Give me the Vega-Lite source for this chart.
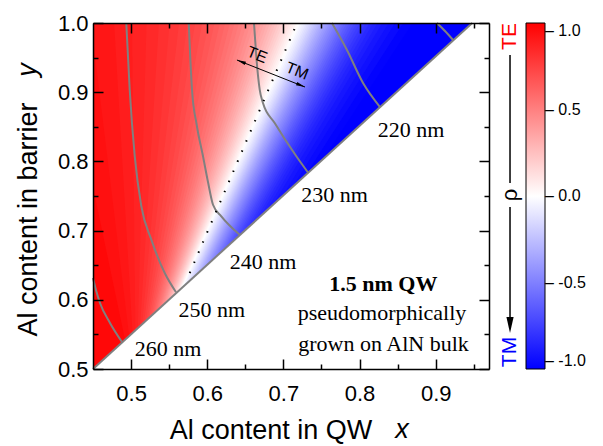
{
"$schema":"https://vega.github.io/schema/vega-lite/v6.json",
"width":396,"height":346,
"autosize":{"type":"none"},
"padding":{"left":93,"top":23,"right":114,"bottom":77},
"background":"white",
"config":{"view":{"stroke":null},"font":"Liberation Sans","axis":{"grid":false,"tickColor":"black","tickWidth":1.5,"domainColor":"black","domainWidth":1.5,"labelColor":"black","titleColor":"black","labelFont":"Liberation Sans","titleFont":"Liberation Sans","labelFontSize":22,"titleFontSize":27,"titleFontWeight":"normal"}},
"resolve":{"axis":{"x":"independent","y":"independent"}},
"datasets":{
"bands":[
{"band":"r0","y":0.5,"x":0.3,"x2":0.5199,"rho":0.0125},{"band":"r0","y":1.0,"x":0.3,"x2":0.7199,"rho":0.0125},
{"band":"r1","y":0.5,"x":0.3,"x2":0.5197,"rho":0.0375},{"band":"r1","y":1.0,"x":0.3,"x2":0.7172,"rho":0.0375},
{"band":"r2","y":0.5,"x":0.3,"x2":0.5196,"rho":0.0625},{"band":"r2","y":1.0,"x":0.3,"x2":0.7145,"rho":0.0625},
{"band":"r3","y":0.5,"x":0.3,"x2":0.5194,"rho":0.0875},{"band":"r3","y":1.0,"x":0.3,"x2":0.7117,"rho":0.0875},
{"band":"r4","y":0.5,"x":0.3,"x2":0.5192,"rho":0.1125},{"band":"r4","y":1.0,"x":0.3,"x2":0.7088,"rho":0.1125},
{"band":"r5","y":0.5,"x":0.3,"x2":0.519,"rho":0.1375},{"band":"r5","y":1.0,"x":0.3,"x2":0.7059,"rho":0.1375},
{"band":"r6","y":0.5,"x":0.3,"x2":0.5188,"rho":0.1625},{"band":"r6","y":1.0,"x":0.3,"x2":0.7028,"rho":0.1625},
{"band":"r7","y":0.5,"x":0.3,"x2":0.5186,"rho":0.1875},{"band":"r7","y":1.0,"x":0.3,"x2":0.6997,"rho":0.1875},
{"band":"r8","y":0.5,"x":0.3,"x2":0.5184,"rho":0.2125},{"band":"r8","y":1.0,"x":0.3,"x2":0.6964,"rho":0.2125},
{"band":"r9","y":0.5,"x":0.3,"x2":0.5182,"rho":0.2375},{"band":"r9","y":1.0,"x":0.3,"x2":0.6931,"rho":0.2375},
{"band":"r10","y":0.5,"x":0.3,"x2":0.518,"rho":0.2625},{"band":"r10","y":1.0,"x":0.3,"x2":0.6896,"rho":0.2625},
{"band":"r11","y":0.5,"x":0.3,"x2":0.5178,"rho":0.2875},{"band":"r11","y":1.0,"x":0.3,"x2":0.6861,"rho":0.2875},
{"band":"r12","y":0.5,"x":0.3,"x2":0.5175,"rho":0.3125},{"band":"r12","y":1.0,"x":0.3,"x2":0.6824,"rho":0.3125},
{"band":"r13","y":0.5,"x":0.3,"x2":0.5173,"rho":0.3375},{"band":"r13","y":1.0,"x":0.3,"x2":0.6786,"rho":0.3375},
{"band":"r14","y":0.5,"x":0.3,"x2":0.517,"rho":0.3625},{"band":"r14","y":1.0,"x":0.3,"x2":0.6746,"rho":0.3625},
{"band":"r15","y":0.5,"x":0.3,"x2":0.5168,"rho":0.3875},{"band":"r15","y":1.0,"x":0.3,"x2":0.6705,"rho":0.3875},
{"band":"r16","y":0.5,"x":0.3,"x2":0.5165,"rho":0.4125},{"band":"r16","y":1.0,"x":0.3,"x2":0.6662,"rho":0.4125},
{"band":"r17","y":0.5,"x":0.3,"x2":0.5162,"rho":0.4375},{"band":"r17","y":1.0,"x":0.3,"x2":0.6617,"rho":0.4375},
{"band":"r18","y":0.5,"x":0.3,"x2":0.5159,"rho":0.4625},{"band":"r18","y":1.0,"x":0.3,"x2":0.657,"rho":0.4625},
{"band":"r19","y":0.5,"x":0.3,"x2":0.5156,"rho":0.4875},{"band":"r19","y":1.0,"x":0.3,"x2":0.6521,"rho":0.4875},
{"band":"r20","y":0.5,"x":0.3,"x2":0.5153,"rho":0.5125},{"band":"r20","y":1.0,"x":0.3,"x2":0.647,"rho":0.5125},
{"band":"r21","y":0.5,"x":0.3,"x2":0.515,"rho":0.5375},{"band":"r21","y":1.0,"x":0.3,"x2":0.6416,"rho":0.5375},
{"band":"r22","y":0.5,"x":0.3,"x2":0.5146,"rho":0.5625},{"band":"r22","y":1.0,"x":0.3,"x2":0.6359,"rho":0.5625},
{"band":"r23","y":0.5,"x":0.3,"x2":0.5142,"rho":0.5875},{"band":"r23","y":1.0,"x":0.3,"x2":0.6299,"rho":0.5875},
{"band":"r24","y":0.5,"x":0.3,"x2":0.5138,"rho":0.6125},{"band":"r24","y":1.0,"x":0.3,"x2":0.6235,"rho":0.6125},
{"band":"r25","y":0.5,"x":0.3,"x2":0.5134,"rho":0.6375},{"band":"r25","y":1.0,"x":0.3,"x2":0.6167,"rho":0.6375},
{"band":"r26","y":0.5,"x":0.3,"x2":0.513,"rho":0.6625},{"band":"r26","y":1.0,"x":0.3,"x2":0.6095,"rho":0.6625},
{"band":"r27","y":0.5,"x":0.3,"x2":0.5125,"rho":0.6875},{"band":"r27","y":1.0,"x":0.3,"x2":0.6017,"rho":0.6875},
{"band":"r28","y":0.5,"x":0.3,"x2":0.5119,"rho":0.7125},{"band":"r28","y":1.0,"x":0.3,"x2":0.5933,"rho":0.7125},
{"band":"r29","y":0.5,"x":0.3,"x2":0.5114,"rho":0.7375},{"band":"r29","y":1.0,"x":0.3,"x2":0.5841,"rho":0.7375},
{"band":"r30","y":0.5,"x":0.3,"x2":0.5107,"rho":0.7625},{"band":"r30","y":1.0,"x":0.3,"x2":0.5741,"rho":0.7625},
{"band":"r31","y":0.5,"x":0.3,"x2":0.51,"rho":0.7875},{"band":"r31","y":1.0,"x":0.3,"x2":0.563,"rho":0.7875},
{"band":"r32","y":0.5,"x":0.3,"x2":0.5092,"rho":0.8125},{"band":"r32","y":1.0,"x":0.3,"x2":0.5506,"rho":0.8125},
{"band":"r33","y":0.5,"x":0.3,"x2":0.5084,"rho":0.8375},{"band":"r33","y":1.0,"x":0.3,"x2":0.5366,"rho":0.8375},
{"band":"r34","y":0.5,"x":0.3,"x2":0.5073,"rho":0.8625},{"band":"r34","y":1.0,"x":0.3,"x2":0.5203,"rho":0.8625},
{"band":"r35","y":0.5,"x":0.3,"x2":0.5061,"rho":0.8875},{"band":"r35","y":1.0,"x":0.3,"x2":0.5012,"rho":0.8875},
{"band":"r36","y":0.5,"x":0.3,"x2":0.5047,"rho":0.9125},{"band":"r36","y":1.0,"x":0.3,"x2":0.4777,"rho":0.9125},
{"band":"r37","y":0.5,"x":0.3,"x2":0.5028,"rho":0.9375},{"band":"r37","y":1.0,"x":0.3,"x2":0.4474,"rho":0.9375},
{"band":"r38","y":0.5,"x":0.3,"x2":0.5001,"rho":0.97},{"band":"r38","y":1.0,"x":0.3,"x2":0.4048,"rho":0.97},
{"band":"b0","y":0.5,"x":0.5199,"x2":1.2,"rho":-0.0125},{"band":"b0","y":1.0,"x":0.7199,"x2":1.2,"rho":-0.0125},
{"band":"b1","y":0.5,"x":0.5207,"x2":1.2,"rho":-0.0375},{"band":"b1","y":1.0,"x":0.7224,"x2":1.2,"rho":-0.0375},
{"band":"b2","y":0.5,"x":0.5216,"x2":1.2,"rho":-0.0625},{"band":"b2","y":1.0,"x":0.7249,"x2":1.2,"rho":-0.0625},
{"band":"b3","y":0.5,"x":0.5224,"x2":1.2,"rho":-0.0875},{"band":"b3","y":1.0,"x":0.7274,"x2":1.2,"rho":-0.0875},
{"band":"b4","y":0.5,"x":0.5232,"x2":1.2,"rho":-0.1125},{"band":"b4","y":1.0,"x":0.7299,"x2":1.2,"rho":-0.1125},
{"band":"b5","y":0.5,"x":0.524,"x2":1.2,"rho":-0.1375},{"band":"b5","y":1.0,"x":0.7322,"x2":1.2,"rho":-0.1375},
{"band":"b6","y":0.5,"x":0.5248,"x2":1.2,"rho":-0.1625},{"band":"b6","y":1.0,"x":0.7345,"x2":1.2,"rho":-0.1625},
{"band":"b7","y":0.5,"x":0.5255,"x2":1.2,"rho":-0.1875},{"band":"b7","y":1.0,"x":0.7367,"x2":1.2,"rho":-0.1875},
{"band":"b8","y":0.5,"x":0.5263,"x2":1.2,"rho":-0.2125},{"band":"b8","y":1.0,"x":0.739,"x2":1.2,"rho":-0.2125},
{"band":"b9","y":0.5,"x":0.527,"x2":1.2,"rho":-0.2375},{"band":"b9","y":1.0,"x":0.7413,"x2":1.2,"rho":-0.2375},
{"band":"b10","y":0.5,"x":0.5278,"x2":1.2,"rho":-0.2625},{"band":"b10","y":1.0,"x":0.7435,"x2":1.2,"rho":-0.2625},
{"band":"b11","y":0.5,"x":0.5285,"x2":1.2,"rho":-0.2875},{"band":"b11","y":1.0,"x":0.7458,"x2":1.2,"rho":-0.2875},
{"band":"b12","y":0.5,"x":0.5293,"x2":1.2,"rho":-0.3125},{"band":"b12","y":1.0,"x":0.7481,"x2":1.2,"rho":-0.3125},
{"band":"b13","y":0.5,"x":0.5301,"x2":1.2,"rho":-0.3375},{"band":"b13","y":1.0,"x":0.7504,"x2":1.2,"rho":-0.3375},
{"band":"b14","y":0.5,"x":0.5309,"x2":1.2,"rho":-0.3625},{"band":"b14","y":1.0,"x":0.7529,"x2":1.2,"rho":-0.3625},
{"band":"b15","y":0.5,"x":0.5317,"x2":1.2,"rho":-0.3875},{"band":"b15","y":1.0,"x":0.7554,"x2":1.2,"rho":-0.3875},
{"band":"b16","y":0.5,"x":0.5326,"x2":1.2,"rho":-0.4125},{"band":"b16","y":1.0,"x":0.7579,"x2":1.2,"rho":-0.4125},
{"band":"b17","y":0.5,"x":0.5334,"x2":1.2,"rho":-0.4375},{"band":"b17","y":1.0,"x":0.7605,"x2":1.2,"rho":-0.4375},
{"band":"b18","y":0.5,"x":0.5343,"x2":1.2,"rho":-0.4625},{"band":"b18","y":1.0,"x":0.7632,"x2":1.2,"rho":-0.4625},
{"band":"b19","y":0.5,"x":0.5353,"x2":1.2,"rho":-0.4875},{"band":"b19","y":1.0,"x":0.766,"x2":1.2,"rho":-0.4875},
{"band":"b20","y":0.5,"x":0.5362,"x2":1.2,"rho":-0.5125},{"band":"b20","y":1.0,"x":0.7688,"x2":1.2,"rho":-0.5125},
{"band":"b21","y":0.5,"x":0.5371,"x2":1.2,"rho":-0.5375},{"band":"b21","y":1.0,"x":0.7716,"x2":1.2,"rho":-0.5375},
{"band":"b22","y":0.5,"x":0.538,"x2":1.2,"rho":-0.5625},{"band":"b22","y":1.0,"x":0.7743,"x2":1.2,"rho":-0.5625},
{"band":"b23","y":0.5,"x":0.539,"x2":1.2,"rho":-0.5875},{"band":"b23","y":1.0,"x":0.7771,"x2":1.2,"rho":-0.5875},
{"band":"b24","y":0.5,"x":0.5399,"x2":1.2,"rho":-0.6125},{"band":"b24","y":1.0,"x":0.7799,"x2":1.2,"rho":-0.6125},
{"band":"b25","y":0.5,"x":0.5409,"x2":1.2,"rho":-0.6375},{"band":"b25","y":1.0,"x":0.783,"x2":1.2,"rho":-0.6375},
{"band":"b26","y":0.5,"x":0.542,"x2":1.2,"rho":-0.6625},{"band":"b26","y":1.0,"x":0.7862,"x2":1.2,"rho":-0.6625},
{"band":"b27","y":0.5,"x":0.543,"x2":1.2,"rho":-0.6875},{"band":"b27","y":1.0,"x":0.7893,"x2":1.2,"rho":-0.6875},
{"band":"b28","y":0.5,"x":0.5442,"x2":1.2,"rho":-0.7125},{"band":"b28","y":1.0,"x":0.7928,"x2":1.2,"rho":-0.7125},
{"band":"b29","y":0.5,"x":0.5454,"x2":1.2,"rho":-0.7375},{"band":"b29","y":1.0,"x":0.7963,"x2":1.2,"rho":-0.7375},
{"band":"b30","y":0.5,"x":0.5466,"x2":1.2,"rho":-0.7625},{"band":"b30","y":1.0,"x":0.7999,"x2":1.2,"rho":-0.7625},
{"band":"b31","y":0.5,"x":0.548,"x2":1.2,"rho":-0.7875},{"band":"b31","y":1.0,"x":0.8041,"x2":1.2,"rho":-0.7875},
{"band":"b32","y":0.5,"x":0.5493,"x2":1.2,"rho":-0.8125},{"band":"b32","y":1.0,"x":0.8082,"x2":1.2,"rho":-0.8125},
{"band":"b33","y":0.5,"x":0.5509,"x2":1.2,"rho":-0.8375},{"band":"b33","y":1.0,"x":0.8129,"x2":1.2,"rho":-0.8375},
{"band":"b34","y":0.5,"x":0.5526,"x2":1.2,"rho":-0.8625},{"band":"b34","y":1.0,"x":0.8179,"x2":1.2,"rho":-0.8625},
{"band":"b35","y":0.5,"x":0.5545,"x2":1.2,"rho":-0.8875},{"band":"b35","y":1.0,"x":0.8237,"x2":1.2,"rho":-0.8875},
{"band":"b36","y":0.5,"x":0.5566,"x2":1.2,"rho":-0.9125},{"band":"b36","y":1.0,"x":0.8299,"x2":1.2,"rho":-0.9125},
{"band":"b37","y":0.5,"x":0.5593,"x2":1.2,"rho":-0.9375},{"band":"b37","y":1.0,"x":0.8382,"x2":1.2,"rho":-0.9375},
{"band":"b38","y":0.5,"x":0.5621,"x2":1.2,"rho":-0.9625},{"band":"b38","y":1.0,"x":0.8466,"x2":1.2,"rho":-0.9625},
{"band":"b39","y":0.5,"x":0.5657,"x2":1.2,"rho":-0.9875},{"band":"b39","y":1.0,"x":0.8574,"x2":1.2,"rho":-0.9875},
{"band":"b40","y":0.5,"x":0.5699,"x2":1.2,"rho":-1},{"band":"b40","y":1.0,"x":0.8699,"x2":1.2,"rho":-1}
],
"contours":[
{"lam":"260","x":0.45,"y":0.6315},{"lam":"260","x":0.4539,"y":0.6142},{"lam":"260","x":0.4592,"y":0.5954},{"lam":"260","x":0.4723,"y":0.5665},{"lam":"260","x":0.4881,"y":0.539},
{"lam":"250","x":0.4937,"y":1.0},{"lam":"250","x":0.4982,"y":0.9036},{"lam":"250","x":0.5048,"y":0.8078},{"lam":"250","x":0.5134,"y":0.7355},{"lam":"250","x":0.5266,"y":0.6869},{"lam":"250","x":0.5442,"y":0.6387},{"lam":"250","x":0.559,"y":0.611},
{"lam":"240","x":0.5757,"y":1.0},{"lam":"240","x":0.58,"y":0.9036},{"lam":"240","x":0.5862,"y":0.8526},{"lam":"240","x":0.5944,"y":0.8078},{"lam":"240","x":0.601,"y":0.7702},{"lam":"240","x":0.6076,"y":0.7374},{"lam":"240","x":0.6185,"y":0.7207},{"lam":"240","x":0.6426,"y":0.6941},
{"lam":"230","x":0.6614,"y":1.0},{"lam":"230","x":0.6644,"y":0.9519},{"lam":"230","x":0.6689,"y":0.9036},{"lam":"230","x":0.6732,"y":0.8844},{"lam":"230","x":0.6886,"y":0.8555},{"lam":"230","x":0.717,"y":0.8074},{"lam":"230","x":0.7323,"y":0.784},
{"lam":"220","x":0.7638,"y":1.0},{"lam":"220","x":0.7835,"y":0.961},{"lam":"220","x":0.8046,"y":0.9133},{"lam":"220","x":0.8269,"y":0.8786},
{"lam":"210","x":0.9017,"y":1.0},{"lam":"210","x":0.9122,"y":0.9884},{"lam":"210","x":0.9228,"y":0.9754}
],
"mask":[{"x":0.45,"y":0.5},{"x":0.948,"y":1.0},{"x":0.97,"y":1.0}],
"diag":[{"x":0.45,"y":0.5},{"x":0.948,"y":1.0}],
"zero":[{"x":0.577,"y":0.6387},{"x":0.718,"y":1.0}],
"arrow":[{"x":0.639,"y":0.9465},{"x":0.7284,"y":0.9075}],
"heads":[{"x":0.6446,"y":0.9441,"dir":"l"},{"x":0.7229,"y":0.91,"dir":"r"}],
"serif":[
{"label":"220 nm","x":0.8676,"y":0.8357},{"label":"230 nm","x":0.7671,"y":0.7418},{"label":"240 nm","x":0.6732,"y":0.6445},{"label":"250 nm","x":0.6059,"y":0.5756},{"label":"260 nm","x":0.5485,"y":0.5188},
{"label":"pseudomorphically","x":0.8295,"y":0.5708},{"label":"grown on AlN bulk","x":0.8315,"y":0.5264}
],
"bold":[{"label":"1.5 nm QW","x":0.8312,"y":0.612}],
"tetm":[{"label":"TE","x":0.6654,"y":0.9538},{"label":"TM","x":0.7179,"y":0.9306}],
"rules":[{"x":0.9976,"y":0.9538,"y2":0.7688},{"x":0.9976,"y":0.7341,"y2":0.5708}]
},
"layer":[
{"data":{"name":"bands"},"mark":{"type":"area","orient":"horizontal","clip":true,"strokeWidth":0},
 "encoding":{
  "y":{"field":"y","type":"quantitative","axis":null,"scale":{"domain":[0.5,1],"nice":false,"zero":false}},
  "x":{"field":"x","type":"quantitative","axis":null,"scale":{"domain":[0.45,0.97],"nice":false,"zero":false}},
  "x2":{"field":"x2"},
  "detail":{"field":"band","type":"nominal"},
  "color":{"field":"rho","type":"quantitative","scale":{"domain":[-1,0,1],"range":["#0000ff","#ffffff","#ff0000"],"interpolate":"rgb"},
   "legend":{"type":"gradient","orient":"none","legendX":433,"legendY":0,"direction":"vertical","title":null,"gradientLength":346,"gradientThickness":19,"gradientStrokeColor":"black","gradientStrokeWidth":1,"values":[-1,-0.5,0,0.5,1],"labelExpr":"'– ' + replace(format(datum.value,'.1f'),'−','-')","labelFont":"Liberation Sans","labelFontSize":16,"labelColor":"black","labelOffset":0,"labelBaseline":"middle","labelOverlap":false,"padding":0}}
 }},
{"data":{"name":"mask"},"mark":{"type":"area","fill":"white","strokeWidth":0},
 "encoding":{
  "x":{"field":"x","type":"quantitative","scale":{"domain":[0.45,0.97],"nice":false,"zero":false},
   "axis":{"orient":"bottom","values":[0.5,0.6,0.7,0.8,0.9],"format":".1f","tickSize":-10,"labelPadding":24,"labelFlush":false,"labelOverlap":false,"title":"Al content in QW","titleX":177.5,"titleY":69,"titleBaseline":"alphabetic","zindex":1}},
  "y":{"field":"y","type":"quantitative","scale":{"domain":[0.5,1],"nice":false,"zero":false},
   "axis":{"orient":"left","values":[0.5,0.6,0.7,0.8,0.9,1.0],"format":".1f","tickSize":-10,"labelPadding":15,"labelFlush":false,"labelOverlap":false,"title":"Al content in barrier","titleAngle":270,"titleX":-57,"titleY":196,"titleBaseline":"alphabetic","zindex":1}},
  "y2":{"datum":0.5}
 }},
{"data":{"name":"contours"},"mark":{"type":"line","color":"#808080","strokeWidth":2,"interpolate":"monotone"},
 "encoding":{
  "x":{"field":"x","type":"quantitative","scale":{"domain":[0.45,0.97],"nice":false,"zero":false},
   "axis":{"orient":"top","values":[0.5,0.6,0.7,0.8,0.9],"tickSize":-10,"labels":false,"title":null,"zindex":1}},
  "y":{"field":"y","type":"quantitative","scale":{"domain":[0.5,1],"nice":false,"zero":false},
   "axis":{"orient":"right","values":[0.5,0.6,0.7,0.8,0.9,1.0],"tickSize":-10,"labels":false,"title":null,"zindex":1}},
  "detail":{"field":"lam","type":"nominal"}
 }},
{"data":{"name":"diag"},"mark":{"type":"line","color":"#808080","strokeWidth":2},
 "encoding":{
  "x":{"field":"x","type":"quantitative","axis":{"orient":"bottom","values":[0.55,0.65,0.75,0.85,0.95],"tickSize":-5,"labels":false,"domain":false,"title":null,"zindex":1}},
  "y":{"field":"y","type":"quantitative","axis":{"orient":"left","values":[0.55,0.65,0.75,0.85,0.95],"tickSize":-5,"labels":false,"domain":false,"title":null,"zindex":1}}
 }},
{"data":{"name":"zero"},"mark":{"type":"line","color":"black","strokeWidth":2,"strokeDash":[1.5,9.5]},
 "encoding":{
  "x":{"field":"x","type":"quantitative","axis":{"orient":"top","values":[0.55,0.65,0.75,0.85,0.95],"tickSize":-5,"labels":false,"domain":false,"title":null,"zindex":1}},
  "y":{"field":"y","type":"quantitative","axis":{"orient":"right","values":[0.55,0.65,0.75,0.85,0.95],"tickSize":-5,"labels":false,"domain":false,"title":null,"zindex":1}}
 }},
{"data":{"name":"arrow"},"mark":{"type":"line","color":"black","strokeWidth":1},
 "encoding":{"x":{"field":"x","type":"quantitative","axis":null},"y":{"field":"y","type":"quantitative","axis":null}}},
{"data":{"name":"heads"},"mark":{"type":"point","filled":true,"color":"black","size":81,"angle":21.7,"opacity":1,"strokeWidth":0},
 "encoding":{"x":{"field":"x","type":"quantitative","axis":null},"y":{"field":"y","type":"quantitative","axis":null},
  "shape":{"field":"dir","type":"nominal","scale":{"domain":["l","r"],"range":["M-1,0L1,-0.4L1,0.4Z","M1,0L-1,-0.4L-1,0.4Z"]},"legend":null}}},
{"data":{"name":"serif"},"mark":{"type":"text","font":"Liberation Serif","fontSize":22,"align":"center","baseline":"alphabetic","color":"black"},
 "encoding":{"x":{"field":"x","type":"quantitative","axis":null},"y":{"field":"y","type":"quantitative","axis":null},"text":{"field":"label"}}},
{"data":{"name":"bold"},"mark":{"type":"text","font":"Liberation Serif","fontSize":22,"fontWeight":"bold","align":"center","baseline":"alphabetic","color":"black"},
 "encoding":{"x":{"field":"x","type":"quantitative","axis":null},"y":{"field":"y","type":"quantitative","axis":null},"text":{"field":"label"}}},
{"data":{"name":"tetm"},"mark":{"type":"text","font":"Liberation Sans","fontSize":16,"align":"center","baseline":"middle","angle":21.7,"color":"black"},
 "encoding":{"x":{"field":"x","type":"quantitative","axis":null},"y":{"field":"y","type":"quantitative","axis":null},"text":{"field":"label"}}},
{"data":{"name":"rules"},"mark":{"type":"rule","color":"black","strokeWidth":1.5},
 "encoding":{"x":{"field":"x","type":"quantitative","axis":null},"y":{"field":"y","type":"quantitative","axis":null},"y2":{"field":"y2"}}},
{"data":{"values":[{"x":0.9976,"y":0.5636}]},"mark":{"type":"point","filled":true,"color":"black","opacity":1,"size":256,"strokeWidth":0,"shape":"M0,1L-0.45,-1L0.45,-1Z"},
 "encoding":{"x":{"field":"x","type":"quantitative","axis":null},"y":{"field":"y","type":"quantitative","axis":null}}},
{"data":{"values":[{"label":"TE","x":0.9976,"y":0.9805}]},"mark":{"type":"text","font":"Liberation Sans","fontSize":21,"align":"center","baseline":"middle","angle":270,"color":"#ff0000"},
 "encoding":{"x":{"field":"x","type":"quantitative","axis":null},"y":{"field":"y","type":"quantitative","axis":null},"text":{"field":"label"}}},
{"data":{"values":[{"label":"ρ","x":0.9976,"y":0.7515}]},"mark":{"type":"text","font":"Liberation Sans","fontSize":22,"align":"center","baseline":"middle","angle":270,"color":"black"},
 "encoding":{"x":{"field":"x","type":"quantitative","axis":null},"y":{"field":"y","type":"quantitative","axis":null},"text":{"field":"label"}}},
{"data":{"values":[{"label":"TM","x":0.9976,"y":0.5246}]},"mark":{"type":"text","font":"Liberation Sans","fontSize":21,"align":"center","baseline":"middle","angle":270,"color":"#0000ff"},
 "encoding":{"x":{"field":"x","type":"quantitative","axis":null},"y":{"field":"y","type":"quantitative","axis":null},"text":{"field":"label"}}},
{"data":{"values":[{"label":"x","x":0.8558,"y":0.4003}]},"mark":{"type":"text","font":"Liberation Sans","fontSize":27,"fontStyle":"italic","align":"center","baseline":"alphabetic","color":"black"},
 "encoding":{"x":{"field":"x","type":"quantitative","axis":null},"y":{"field":"y","type":"quantitative","axis":null},"text":{"field":"label"}}},
{"data":{"values":[{"label":"y","x":0.3751,"y":0.932}]},"mark":{"type":"text","font":"Liberation Sans","fontSize":27,"fontStyle":"italic","align":"center","baseline":"alphabetic","angle":270,"color":"black"},
 "encoding":{"x":{"field":"x","type":"quantitative","axis":null},"y":{"field":"y","type":"quantitative","axis":null},"text":{"field":"label"}}}
]
}
